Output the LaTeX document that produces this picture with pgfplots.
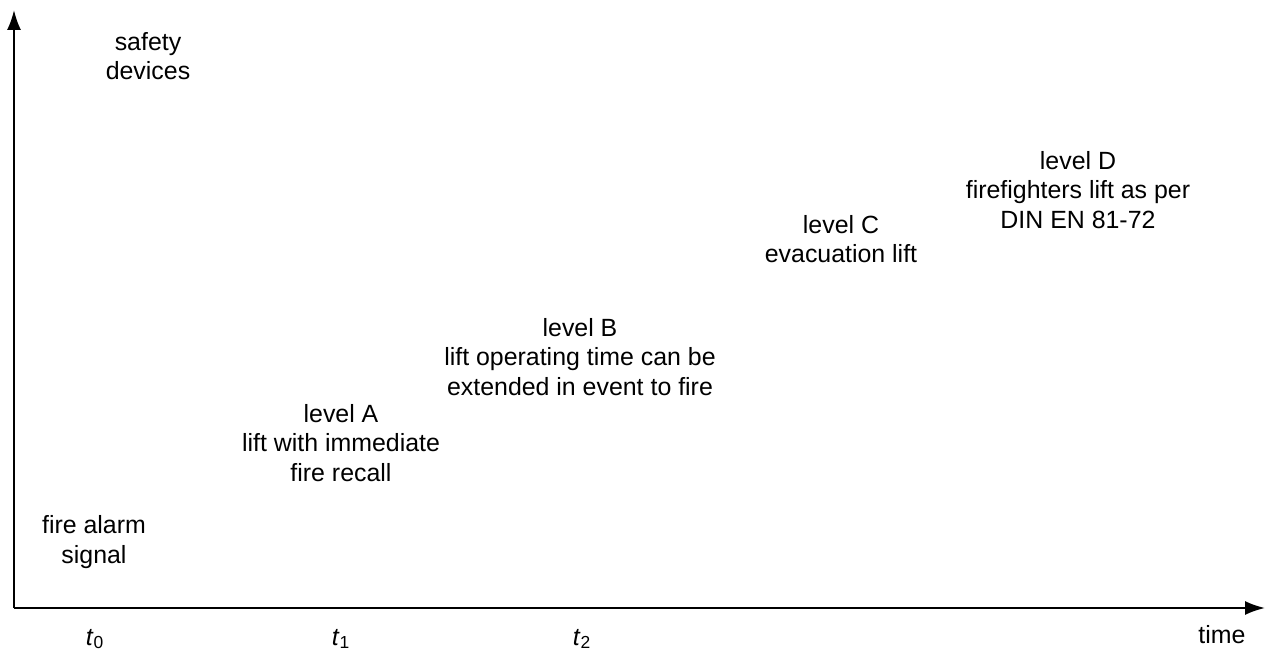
\documentclass[border=0pt]{standalone}
\usepackage{pgfplots}
\pgfplotsset{compat=1.18}
\usepackage{fontspec}
\setmainfont{Liberation Sans}
\usetikzlibrary{arrows.meta}
\begin{document}
\begin{tikzpicture}
\begin{axis}[
  name=ax,
  scale only axis,
  width=625.5bp, height=299bp,
  xmin=0, xmax=1251, ymin=0, ymax=598,
  axis lines=left,
  axis line style={line width=1bp, -{Latex[length=10bp,width=7bp]}},
  clip=false,
  ytick=\empty,
  xtick={81,327,568},
  xticklabels={\textit{t}\textsubscript{0},\textit{t}\textsubscript{1},\textit{t}\textsubscript{2}},
  major tick length=0pt,
  xticklabel style={anchor=base, yshift=-18.5bp, font=\fontsize{12.5}{14.75}\selectfont},
  every node near coord/.append style={},
]
\addplot[draw=none] coordinates {(0,0) (1251,598)};
\tikzset{lbl/.style={align=center, font=\fontsize{12.5}{14.75}\selectfont, inner sep=0pt}}
\node[lbl] at (axis cs:134,552) {safety\\devices};
\node[lbl] at (axis cs:80,66) {fire alarm\\signal};
\node[lbl] at (axis cs:327,165) {level A\\lift with immediate\\fire recall};
\node[lbl] at (axis cs:566,251) {level B\\lift operating time can be\\extended in event to fire};
\node[lbl] at (axis cs:827,369) {level C\\evacuation lift};
\node[lbl] at (axis cs:1064,418) {level D\\firefighters lift as per\\DIN EN 81-72};
\node[lbl, anchor=base] at (axis cs:1208,-35) {time};
\end{axis}
\pgfresetboundingbox
\path[use as bounding box] ([shift={(-7bp,-21bp)}]ax.south west) rectangle ([shift={(627.5bp,304bp)}]ax.south west);
\end{tikzpicture}
\end{document}
